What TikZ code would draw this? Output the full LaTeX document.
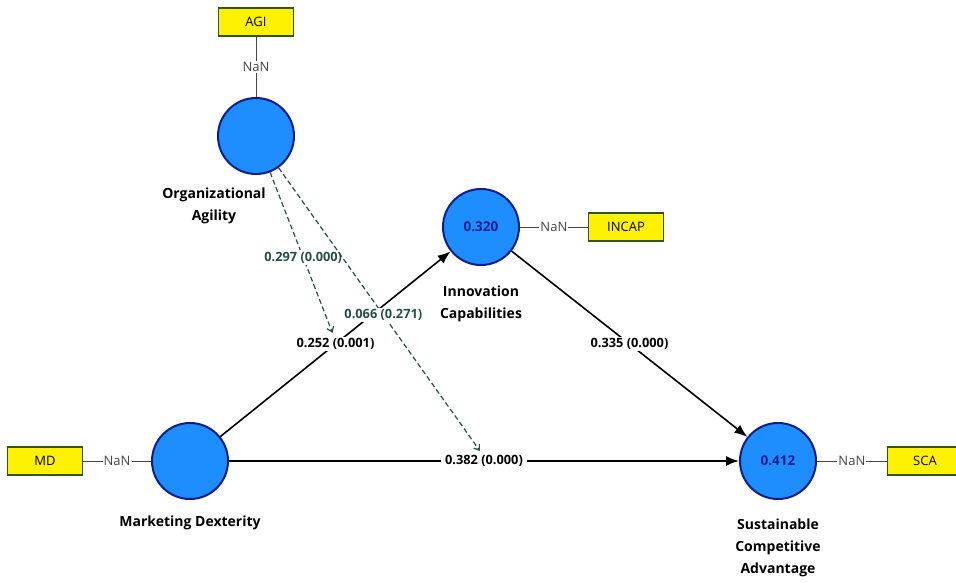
\documentclass[tikz,border=0pt]{standalone}
\usepackage{fontspec}
\setmainfont{Open Sans}
\usetikzlibrary{calc,arrows.meta}

\definecolor{latentfill}{RGB}{30,142,255}
\definecolor{latentdraw}{RGB}{12,28,140}
\definecolor{boxdraw}{RGB}{52,82,30}
\definecolor{modcolor}{RGB}{38,78,72}
\definecolor{loadgray}{RGB}{70,70,70}

\begin{document}
\begin{tikzpicture}[x=1pt,y=-1pt,
	latent/.style={circle,minimum size=76pt,inner sep=0pt,fill=latentfill,draw=latentdraw,line width=2pt,text=latentdraw,font=\bfseries\fontsize{13.5}{15}\selectfont},
	indicator/.style={rectangle,minimum width=75pt,minimum height=28pt,fill=yellow,draw=boxdraw,line width=1.4pt,font=\fontsize{13}{15}\selectfont},
	cname/.style={align=center,font=\bfseries\fontsize{14}{22}\selectfont},
	nan/.style={fill=white,inner sep=1pt,text=loadgray,font=\fontsize{13}{15}\selectfont},
	coef/.style={fill=white,inner xsep=4pt,inner ysep=1.5pt,font=\bfseries\fontsize{12.8}{15}\selectfont},
	structural/.style={line width=1.6pt,-{Latex[length=13pt,width=10pt]}},
	moderating/.style={line width=1.2pt,modcolor,dash pattern=on 5pt off 3pt,-{Straight Barb[length=5pt,width=7pt]}}]

	\useasboundingbox (0,0) rectangle (956,583);

	% constructs
	\node (oa) at (256,136) [latent] {};
	\node (md) at (190,461) [latent] {};
	\node (incap) at (481,227) [latent] {0.320};
	\node (sca) at (778,461) [latent] {0.412};

	\node (oal) at ($(oa)+(-42,70)$) [cname] {Organizational\\Agility};
	\node (mdl) [below of=md, node distance=62pt, cname] {Marketing Dexterity};
	\node (incapl) [below of=incap, node distance=77pt, cname] {Innovation\\Capabilities};
	\node (scal) [below of=sca, node distance=87pt, cname] {Sustainable\\Competitive\\Advantage};

	% indicators
	\node (agi) [above of=oa, node distance=114pt, indicator] {AGI};
	\node (mdi) [left of=md, node distance=145pt, indicator] {MD};
	\node (incapi) [right of=incap, node distance=145pt, indicator] {INCAP};
	\node (scai) [right of=sca, node distance=147pt, indicator] {SCA};

	\foreach \c/\i in {oa/agi, md/mdi, incap/incapi, sca/scai} {
		\draw[loadgray, line width=1pt] (\i) -- node[nan] {NaN} (\c);
	}

	% paths
	\draw[structural] (md) -- node[coef] {0.252 (0.001)} (incap);
	\draw[structural] (md) -- node[coef] {0.382 (0.000)} (sca);
	\draw[structural] (incap) -- node[coef] {0.335 (0.000)} (sca);

	\coordinate (m1) at ($(md)!0.5!(incap)+(-3,-11)$);
	\coordinate (m2) at ($(md)!0.5!(sca)+(-4,-10)$);
	\draw[moderating] (oa) -- node[coef, text=modcolor, inner xsep=1.5pt, pos=0.53] {0.297 (0.000)} (m1);
	\draw[moderating] (oa) -- node[coef, text=modcolor, inner xsep=1.5pt, pos=0.52] {0.066 (0.271)} (m2);

\end{tikzpicture}
\end{document}
